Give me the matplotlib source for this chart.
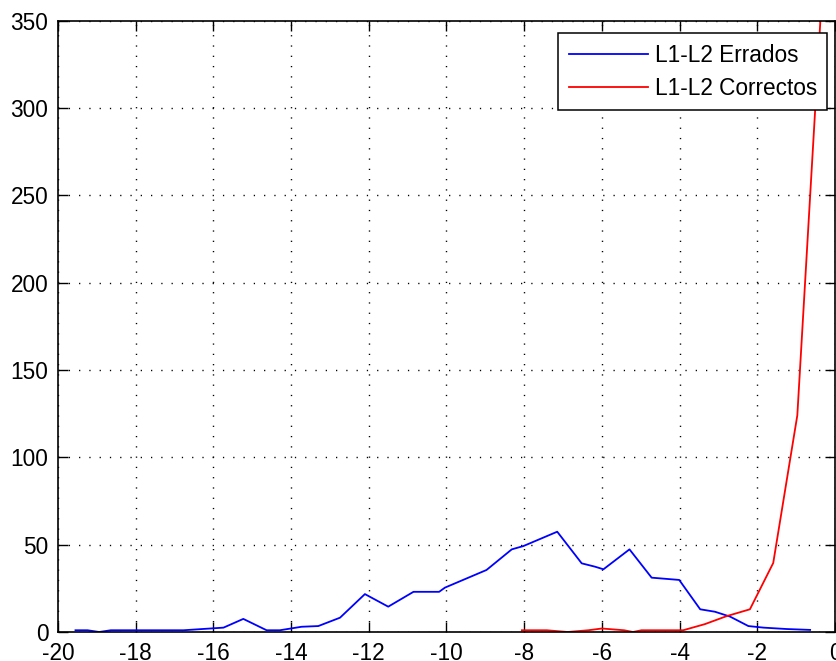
import matplotlib
matplotlib.use("Agg")
import matplotlib.pyplot as plt

# values
errados_x = [-19.55, -19.24, -18.94, -18.64, -16.77, -15.74, -15.23, -14.63, -14.29,
             -13.73, -13.3, -12.74, -12.1, -11.5, -10.85, -10.19, -10.04, -8.97, -8.32,
             -8.02, -7.15, -6.52, -6.18, -5.96, -5.29, -4.72, -4.01, -3.47, -3.09, -2.7,
             -2.23, -1.84, -1.24, -0.64]
errados_y = [1, 1, 0, 1, 1, 2.5, 7.5, 1, 1,
             3, 3.4, 8.2, 21.7, 14.5, 23, 23, 25.4, 35.5, 47.3,
             49.2, 57.4, 39.3, 37.4, 35.9, 47.3, 31.1, 29.8, 13, 11.6, 8.8,
             3.4, 2.5, 1.7, 1.2]

correctos_x = [-8.06, -7.42, -6.88, -6.35, -6.0, -5.43, -5.2, -4.98, -3.91,
               -3.35, -2.8, -2.19, -1.59, -0.97, -0.35]
correctos_y = [1, 1, 0, 1, 2, 1, 0, 1, 1,
               4.5, 9, 13, 39.5, 124, 360]

x_ticks = list(range(-20, 1, 2))
y_ticks = list(range(0, 351, 50))

plt.rcParams['font.family'] = ['Liberation Sans', 'DejaVu Sans']
plt.rcParams['axes.unicode_minus'] = False
fs = 16.3

fig = plt.figure(figsize=(8.37, 6.61), dpi=100)
ax = fig.add_axes([58 / 837, 29 / 661, 777 / 837, 611.5 / 661])

ax.plot(errados_x, errados_y, color='#0000ff', linewidth=1.3, label='L1-L2 Errados')
ax.plot(correctos_x, correctos_y, color='#ff0000', linewidth=1.3, label='L1-L2 Correctos')

ax.set_xlim(-20, 0)
ax.set_ylim(0, 350)
ax.set_xticks(x_ticks)
ax.set_yticks(y_ticks)
ax.tick_params(direction='in', top=True, right=True, length=7, width=1,
               labelsize=fs, pad=7)
ax.grid(True, color='black', linestyle=(0, (0.9, 6.5)), linewidth=1.0)
for sp in ax.spines.values():
    sp.set_linewidth(1.2)

leg = ax.legend(loc='upper right', bbox_to_anchor=(0.9897, 0.979), borderaxespad=0,
                fontsize=fs, fancybox=False, framealpha=1, edgecolor='black',
                handlelength=3.5, handletextpad=0.3, borderpad=0.45, labelspacing=0.45)
leg.get_frame().set_linewidth(1.1)

fig.savefig('out.png', dpi=100)
